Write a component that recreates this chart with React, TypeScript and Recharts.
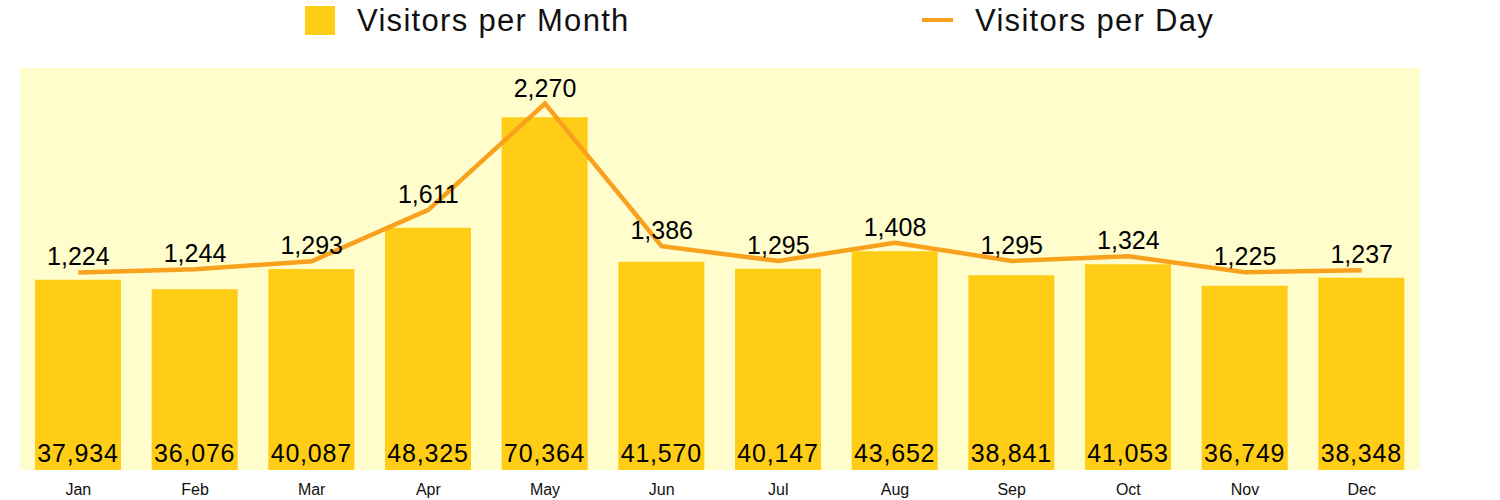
import { Bar, CartesianGrid, ComposedChart, LabelList, Legend, Line, XAxis, YAxis } from "recharts";

const months = ["Jan", "Feb", "Mar", "Apr", "May", "Jun", "Jul", "Aug", "Sep", "Oct", "Nov", "Dec"];
const visitorsPerMonth = [37934, 36076, 40087, 48325, 70364, 41570, 40147, 43652, 38841, 41053, 36749, 38348];
const visitorsPerDay = [1224, 1244, 1293, 1611, 2270, 1386, 1295, 1408, 1295, 1324, 1225, 1237];

const BAR_COLOR = "#FFCD15";
const LINE_COLOR = "#F8A11C";
const BG_COLOR = "#FFFDCC";
const FONT = "'Liberation Sans', Arial, sans-serif";

const fmt = (v: number) => v.toLocaleString("en-US");

// legend drawn by hand so it sits where the original has it
function TopLegend() {
  const text = { position: "absolute" as const, top: 3, fontSize: 31, letterSpacing: 1.3, lineHeight: "normal", color: "#111", whiteSpace: "nowrap" as const };
  return (
    <div style={{ position: "relative", width: 1500, height: 45, fontFamily: FONT }}>
      <div style={{ position: "absolute", left: 305, top: 6, width: 30, height: 29, background: BAR_COLOR }} />
      <div style={{ ...text, left: 357 }}>Visitors per Month</div>
      <div style={{ position: "absolute", left: 922, top: 18, width: 31, height: 4, background: LINE_COLOR }} />
      <div style={{ ...text, left: 975 }}>Visitors per Day</div>
    </div>
  );
}

export default function App() {
  const data = months.map((m, i) => ({
    month: m,
    perMonth: visitorsPerMonth[i],
    perDay: visitorsPerDay[i],
  }));

  return (
    <div style={{ position: "absolute", left: 0, top: 0, width: 1500, height: 500, background: "#fff" }}>
      <ComposedChart
        width={1500}
        height={500}
        data={data}
        margin={{ top: 68, right: 80, left: 20, bottom: 0 }}
        style={{ fontFamily: FONT }}
      >
        <CartesianGrid horizontal={false} vertical={false} fill={BG_COLOR} stroke="none" />
        <XAxis
          dataKey="month"
          axisLine={false}
          tickLine={false}
          height={30}
          tick={{ fill: "#111", fontSize: 16, dy: 6 }}
          interval={0}
        />
        <YAxis yAxisId="bar" hide domain={[0, 80200]} />
        <YAxis yAxisId="line" hide orientation="right" domain={[0, 2490]} />
        <Legend
          layout="horizontal"
          verticalAlign="middle"
          wrapperStyle={{ top: 0, left: 0, width: 1500 }}
          content={() => <TopLegend />}
        />
        <Bar
          yAxisId="bar"
          dataKey="perMonth"
          name="Visitors per Month"
          fill={BAR_COLOR}
          barSize={86}
          isAnimationActive={false}
        >
          <LabelList
            dataKey="perMonth"
            position="insideBottom"
            offset={8}
            formatter={(v: number) => fmt(v)}
            style={{ fill: "#000", fontSize: 25, letterSpacing: 0.8, fontFamily: FONT }}
          />
        </Bar>
        <Line
          yAxisId="line"
          dataKey="perDay"
          name="Visitors per Day"
          type="linear"
          stroke={LINE_COLOR}
          strokeWidth={4.5}
          dot={false}
          activeDot={false}
          isAnimationActive={false}
        >
          <LabelList
            dataKey="perDay"
            position="top"
            offset={7}
            formatter={(v: number) => fmt(v)}
            style={{ fill: "#000", fontSize: 25, fontFamily: FONT }}
          />
        </Line>
      </ComposedChart>
    </div>
  );
}
